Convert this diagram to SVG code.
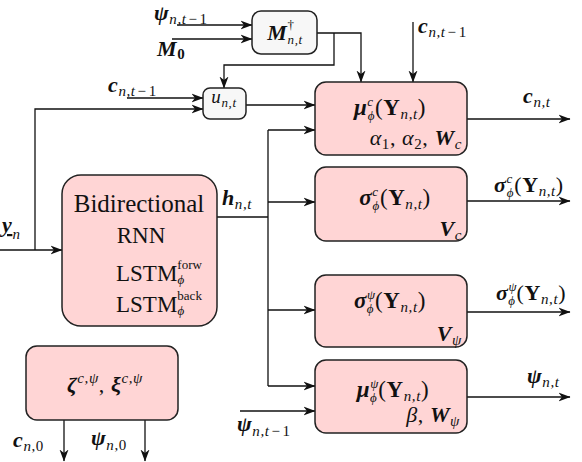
<svg xmlns="http://www.w3.org/2000/svg" width="582" height="462" viewBox="0 0 582 462">
<style>
.box{fill:#ffd5d5;stroke:#222;stroke-width:1.5}
.gbox{fill:#f7f7f7;stroke:#222;stroke-width:1.5}
.ln{fill:none;stroke:#111;stroke-width:1.3}
.arr{marker-end:url(#ah)}
.lb{font-family:"Liberation Serif","Times New Roman",serif;font-size:22px;letter-spacing:0.6px;fill:#111}
.bx{font-size:23px}
.rm{font-family:"Liberation Serif","Times New Roman",serif;fill:#111}
.bi{font-weight:bold;font-style:italic}
.it{font-style:italic}
.bd{font-weight:bold}
.s{font-size:15px}
.ss{font-size:13px}
</style>
<defs>
<marker id="ah" markerWidth="12" markerHeight="10" refX="11.5" refY="5" orient="auto" markerUnits="userSpaceOnUse" viewBox="0 0 12 10">
<path d="M0,0.5 L12,5 L0,9.5 L3.5,5 Z" fill="#111"/>
</marker>
</defs>

<g id="connectors">
<path class="ln arr" d="M177,25 H252"/>
<path class="ln arr" d="M172,39 H252"/>
<path class="ln arr" d="M317,33 H361 V82"/>
<path class="ln arr" d="M334,33 V65 H224 V88"/>
<path class="ln arr" d="M127,98 H203"/>
<path class="ln arr" d="M0,250 H62"/>
<path class="ln arr" d="M35,250 V109 H203"/>
<path class="ln arr" d="M246,105 H315"/>
<path class="ln arr" d="M413,22 V82"/>
<path class="ln arr" d="M467,119 H570"/>
<path class="ln" d="M217,217 H268 M268,130 V386"/>
<path class="ln arr" d="M268,130 H315"/>
<path class="ln arr" d="M268,202 H315"/>
<path class="ln arr" d="M268,310 H315"/>
<path class="ln arr" d="M268,386 H315"/>
<path class="ln arr" d="M467,201 H570"/>
<path class="ln arr" d="M467,312 H570"/>
<path class="ln arr" d="M467,397 H570"/>
<path class="ln arr" d="M240,411 H315"/>
<path class="ln arr" d="M64,420 V461"/>
<path class="ln arr" d="M145,420 V461"/>
</g>

<g id="labels">
<text class="lb" x="154" y="20"><tspan class="bi">ψ</tspan><tspan class="s it" dy="4">n,t</tspan><tspan class="s" dx="2">−</tspan><tspan class="s" dx="2">1</tspan></text>
<text class="lb" x="157" y="56"><tspan class="bi">M</tspan><tspan class="s bd" dy="3">0</tspan></text>
<text class="lb" x="108" y="92"><tspan class="bi">c</tspan><tspan class="s it" dy="4">n,t</tspan><tspan class="s" dx="2">−</tspan><tspan class="s" dx="2">1</tspan></text>
<text class="lb" x="418" y="33"><tspan class="bi">c</tspan><tspan class="s it" dy="4">n,t</tspan><tspan class="s" dx="2">−</tspan><tspan class="s" dx="2">1</tspan></text>
<text class="lb" x="523" y="103"><tspan class="bi">c</tspan><tspan class="s it" dy="4">n,t</tspan></text>
<text class="lb" x="2" y="232"><tspan class="bi" text-decoration="underline">y</tspan><tspan class="s it" dy="7">n</tspan></text>
<text class="lb" x="222" y="205"><tspan class="bi">h</tspan><tspan class="s it" dy="4">n,t</tspan></text>
<text class="lb" x="494" y="192"><tspan class="bi">σ</tspan><tspan class="ss it" dy="-9">c</tspan><tspan class="ss it" dx="-6" dy="14">ϕ</tspan><tspan dy="-5">(</tspan><tspan class="bd">Υ</tspan><tspan class="s it" dy="4">n,t</tspan><tspan dy="-4">)</tspan></text>
<text class="lb" x="496" y="300"><tspan class="bi">σ</tspan><tspan class="ss it" dy="-9">ψ</tspan><tspan class="ss it" dx="-9" dy="14">ϕ</tspan><tspan dx="1" dy="-5">(</tspan><tspan class="bd">Υ</tspan><tspan class="s it" dy="4">n,t</tspan><tspan dy="-4">)</tspan></text>
<text class="lb" x="527" y="383"><tspan class="bi">ψ</tspan><tspan class="s it" dy="4">n,t</tspan></text>
<text class="lb" x="237" y="431"><tspan class="bi">ψ</tspan><tspan class="s it" dy="5">n,t</tspan><tspan class="s" dx="2">−</tspan><tspan class="s" dx="2">1</tspan></text>
<text class="lb" x="13" y="447"><tspan class="bi">c</tspan><tspan class="s it" dy="4">n</tspan><tspan class="s">,0</tspan></text>
<text class="lb" x="91" y="445"><tspan class="bi">ψ</tspan><tspan class="s it" dy="5">n</tspan><tspan class="s">,0</tspan></text>
</g>

<g id="node-M">
<rect class="gbox" x="252" y="11" width="65" height="43" rx="9"/>
<text class="lb" x="285" y="40" text-anchor="middle"><tspan class="bi">M</tspan><tspan class="ss" dy="-11">†</tspan><tspan class="ss it" dx="-7" dy="15">n,t</tspan></text>
</g>

<g id="node-u">
<rect class="gbox" x="203" y="88" width="43" height="31" rx="7"/>
<text class="lb" x="224" y="103" text-anchor="middle" style="font-size:19px"><tspan class="it">u</tspan><tspan class="ss it" dy="4">n,t</tspan></text>
</g>

<g id="node-mu-c">
<rect class="box" x="315" y="82" width="152" height="73" rx="11"/>
<text class="lb bx" x="390" y="115" text-anchor="middle"><tspan class="bi">μ</tspan><tspan class="ss it" dy="-9">c</tspan><tspan class="ss it" dx="-6" dy="14">ϕ</tspan><tspan dy="-5">(</tspan><tspan class="bd">Υ</tspan><tspan class="s it" dy="4">n,t</tspan><tspan dy="-4">)</tspan></text>
<text class="lb" x="462" y="145" text-anchor="end"><tspan class="it">α</tspan><tspan class="s" dy="4">1</tspan><tspan dy="-4">, </tspan><tspan class="it">α</tspan><tspan class="s" dy="4">2</tspan><tspan dy="-4">, </tspan><tspan class="bi">W</tspan><tspan class="s it" dy="4">c</tspan></text>
</g>

<g id="node-rnn">
<rect class="box" x="62" y="175" width="155" height="151" rx="19"/>
<text class="rm" x="139" y="212" font-size="25" text-anchor="middle">Bidirectional</text>
<text class="rm" x="141" y="243" font-size="23" text-anchor="middle">RNN</text>
<text class="rm" x="116" y="281" font-size="23">LSTM<tspan font-size="13" dy="-12">forw</tspan><tspan font-size="13" font-style="italic" dx="-24.5" dy="15">ϕ</tspan></text>
<text class="rm" x="116" y="312" font-size="23">LSTM<tspan font-size="13" dy="-12">back</tspan><tspan font-size="13" font-style="italic" dx="-24.5" dy="15">ϕ</tspan></text>
</g>

<g id="node-sigma-c">
<rect class="box" x="315" y="167" width="152" height="74" rx="11"/>
<text class="lb bx" x="395" y="205" text-anchor="middle"><tspan class="bi">σ</tspan><tspan class="ss it" dy="-9">c</tspan><tspan class="ss it" dx="-6" dy="14">ϕ</tspan><tspan dy="-5">(</tspan><tspan class="bd">Υ</tspan><tspan class="s it" dy="4">n,t</tspan><tspan dy="-4">)</tspan></text>
<text class="lb" x="462" y="236" text-anchor="end"><tspan class="bi">V</tspan><tspan class="s it" dy="4">c</tspan></text>
</g>

<g id="node-sigma-psi">
<rect class="box" x="315" y="275" width="152" height="72" rx="11"/>
<text class="lb bx" x="390" y="308" text-anchor="middle"><tspan class="bi">σ</tspan><tspan class="ss it" dy="-9">ψ</tspan><tspan class="ss it" dx="-9" dy="14">ϕ</tspan><tspan dx="1" dy="-5">(</tspan><tspan class="bd">Υ</tspan><tspan class="s it" dy="4">n,t</tspan><tspan dy="-4">)</tspan></text>
<text class="lb" x="462" y="341" text-anchor="end"><tspan class="bi">V</tspan><tspan class="s it" dy="4">ψ</tspan></text>
</g>

<g id="node-mu-psi">
<rect class="box" x="315" y="360" width="152" height="73" rx="11"/>
<text class="lb bx" x="393" y="397" text-anchor="middle"><tspan class="bi">μ</tspan><tspan class="ss it" dy="-9">ψ</tspan><tspan class="ss it" dx="-9" dy="14">ϕ</tspan><tspan dx="1" dy="-5">(</tspan><tspan class="bd">Υ</tspan><tspan class="s it" dy="4">n,t</tspan><tspan dy="-4">)</tspan></text>
<text class="lb" x="460" y="422" text-anchor="end"><tspan class="it">β</tspan>, <tspan class="bi">W</tspan><tspan class="s it" dy="4">ψ</tspan></text>
</g>

<g id="node-init">
<rect class="box" x="26" y="346" width="152" height="74" rx="11"/>
<text class="lb" x="105" y="392" text-anchor="middle"><tspan class="bi">ζ</tspan><tspan class="s it" dy="-9">c,ψ</tspan><tspan dy="9">, </tspan><tspan class="bi">ξ</tspan><tspan class="s it" dy="-9">c,ψ</tspan></text>
</g>
</svg>
